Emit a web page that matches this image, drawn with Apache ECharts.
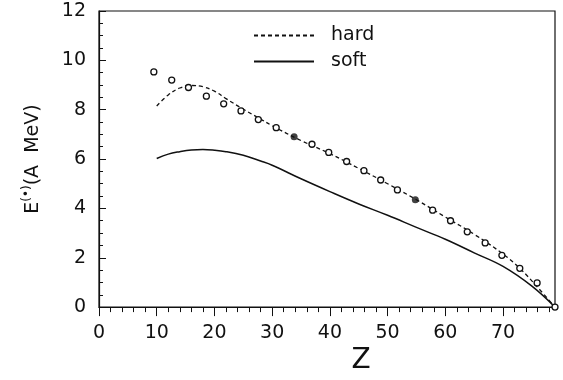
<!DOCTYPE html>
<html>
<head>
<meta charset="utf-8">
<script src="https://cdn.jsdelivr.net/npm/echarts@6/dist/echarts.min.js"></script>
<style>
  html, body { margin: 0; padding: 0; background: #fff; }
  #chart { width: 563px; height: 380px; }
</style>
</head>
<body>
<div id="chart"></div>
<script>
// curve "hard" (dashed)
var hardZ = [10, 12, 14, 16, 18, 20, 22, 25, 28, 30, 35, 40, 45, 50, 55, 60, 65, 70, 73, 76, 79];
var hardE = [8.15, 8.6, 8.88, 8.98, 8.93, 8.75, 8.45, 8.02, 7.62, 7.35, 6.75, 6.22, 5.62, 5.0, 4.35, 3.65, 2.95, 2.15, 1.55, 0.8, 0];
// curve "soft" (solid)
var softZ = [10, 12, 14, 16, 18, 20, 22, 25, 28, 30, 35, 40, 45, 50, 55, 60, 65, 70, 75, 79];
var softE = [6.02, 6.2, 6.3, 6.37, 6.39, 6.36, 6.3, 6.15, 5.92, 5.75, 5.2, 4.68, 4.18, 3.72, 3.23, 2.75, 2.2, 1.65, 0.85, 0];
// measured points (open circles)
var dataZ = [9.5, 12.6, 15.5, 18.6, 21.6, 24.6, 27.6, 30.7, 36.9, 39.8, 42.9, 45.9, 48.8, 51.7, 57.8, 60.9, 63.8, 66.9, 69.8, 72.9, 75.9, 79];
var dataE = [9.53, 9.2, 8.9, 8.55, 8.24, 7.95, 7.6, 7.27, 6.6, 6.27, 5.9, 5.53, 5.15, 4.75, 3.93, 3.5, 3.05, 2.6, 2.1, 1.57, 0.98, 0];
// filled points
var fullZ = [33.8, 54.8];
var fullE = [6.9, 4.35];
// ticks
var xMajor = [0, 10, 20, 30, 40, 50, 60, 70];
var xMinor = [0, 2, 4, 6, 8, 10, 12, 14, 16, 18, 20, 22, 24, 26, 28, 30, 32, 34, 36, 38, 40,
              42, 44, 46, 48, 50, 52, 54, 56, 58, 60, 62, 64, 66, 68, 70, 72, 74, 76, 78];

function pairs(xs, ys) {
  return xs.map(function (x, i) { return [x, ys[i]]; });
}

var font = 'DejaVu Sans, Liberation Sans, sans-serif';
var ink = '#111';

var myChart = echarts.init(document.getElementById('chart'));
myChart.setOption({
  animation: false,
  textStyle: { fontFamily: font },
  grid: {
    left: 99, right: 8, top: 11, bottom: 64,
    show: true, borderColor: ink, borderWidth: 1.2, backgroundColor: 'transparent'
  },
  legend: {
    data: ['hard', 'soft'],
    orient: 'vertical',
    left: 248, top: 21,
    itemWidth: 60, itemHeight: 14, itemGap: 7,
    itemStyle: { opacity: 0 },
    textStyle: { fontSize: 19, color: ink, fontFamily: font, padding: [0, 0, 0, 12] }
  },
  xAxis: [{
    type: 'value', min: 0, max: 79,
    name: 'Z', nameLocation: 'middle', nameGap: 31,
    nameTextStyle: { fontSize: 28, color: ink, padding: [0, 0, 0, 68] },
    splitLine: { show: false },
    axisLine: { lineStyle: { color: ink, width: 1.2 } },
    axisTick: { customValues: xMajor, inside: false, length: 9, lineStyle: { color: ink } },
    axisLabel: { customValues: xMajor, fontSize: 19, color: ink, margin: 16 }
  }, {
    type: 'value', min: 0, max: 79, position: 'bottom',
    splitLine: { show: false },
    axisLine: { show: false },
    axisTick: { customValues: xMinor, inside: false, length: 5, lineStyle: { color: ink } },
    axisLabel: { show: false }
  }],
  yAxis: {
    type: 'value', min: 0, max: 12, interval: 2,
    name: '{e|E}{s|(•)}{e|(A  MeV)}',
    nameLocation: 'middle', nameGap: 56, nameRotate: 90,
    nameTextStyle: {
      color: ink,
      rich: {
        e: { fontSize: 19, color: ink, fontFamily: font, verticalAlign: 'bottom' },
        s: { fontSize: 12, color: ink, fontFamily: font, verticalAlign: 'top', padding: [0, 0, 10, 0] }
      }
    },
    splitLine: { show: false },
    axisLine: { lineStyle: { color: ink, width: 1.2 } },
    axisTick: { inside: true, length: 7, lineStyle: { color: ink } },
    minorTick: { show: true, splitNumber: 4, length: 4, lineStyle: { color: ink } },
    axisLabel: { fontSize: 19, color: ink, margin: 13 }
  },
  series: [{
    name: 'hard', type: 'line', smooth: 0.4, symbol: 'none',
    data: pairs(hardZ, hardE),
    lineStyle: { color: ink, width: 1.3, type: [4, 3] },
    itemStyle: { color: ink }
  }, {
    name: 'soft', type: 'line', smooth: 0.4, symbol: 'none',
    data: pairs(softZ, softE),
    lineStyle: { color: ink, width: 1.5 },
    itemStyle: { color: ink }
  }, {
    name: 'data', type: 'scatter', symbol: 'circle', symbolSize: 6,
    data: pairs(dataZ, dataE),
    itemStyle: { color: '#fff', borderColor: ink, borderWidth: 1.3, opacity: 1 },
    z: 5
  }, {
    name: 'full', type: 'scatter', symbol: 'circle', symbolSize: 7,
    data: pairs(fullZ, fullE),
    itemStyle: { color: ink },
    z: 5
  }]
});
</script>
</body>
</html>
